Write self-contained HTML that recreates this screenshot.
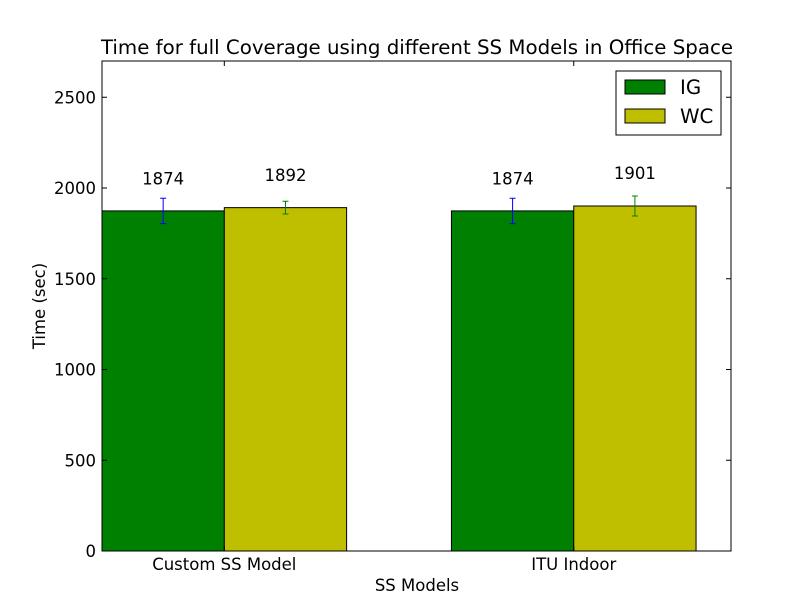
<!DOCTYPE html>
<html><head><meta charset="utf-8"><style>
body{margin:0;background:#fff;font-family:"DejaVu Sans","Liberation Sans",sans-serif;}
</style></head><body>
<svg id="chart" width="812" height="612" xmlns="http://www.w3.org/2000/svg" font-family="DejaVu Sans, Liberation Sans, sans-serif">
<rect width="812" height="612" fill="#fff"/>
<g id="plot"></g>
</svg>
<script>
const categories=["Custom SS Model","ITU Indoor"];
const seriesNames=["IG","WC"];
const igValues=[1874,1874];
const wcValues=[1892,1901];
const igErrors=[70,70];
const wcErrors=[35,55];
const yTicks=[0,500,1000,1500,2000,2500];
const L=102,R=731,T=61,B=551,XMAX=1.8,YMAX=2700,BW=0.35;
const sx=v=>L+(v/XMAX)*(R-L);
const sy=v=>B-(v/YMAX)*(B-T);
const g=document.getElementById('plot');
const NS="http://www.w3.org/2000/svg";
function mk(t,a,txt){const e=document.createElementNS(NS,t);for(const k in a)e.setAttribute(k,a[k]);if(txt!=null)e.textContent=txt;g.appendChild(e);return e;}
const series=[{v:igValues,e:igErrors,fill:"#008000",ec:"#0000ff",off:0},{v:wcValues,e:wcErrors,fill:"#bfbf00",ec:"#008000",off:BW}];
series.forEach((s,si)=>{
 categories.forEach((c,i)=>{
  const x0=sx(i+s.off),x1=sx(i+s.off+BW);
  const r=mk('rect',{x:x0,y:sy(s.v[i]),width:x1-x0,height:B-sy(s.v[i]),fill:s.fill,stroke:"#000","stroke-width":1});
  
  
  const xc=(x0+x1)/2;
  const eb=mk('path',{d:`M${xc},${sy(s.v[i]+s.e[i])}V${sy(s.v[i]-s.e[i])}M${xc-3},${sy(s.v[i]+s.e[i])}H${xc+3}M${xc-3},${sy(s.v[i]-s.e[i])}H${xc+3}`,stroke:s.ec,"stroke-width":1,fill:"none"});
  
  
  const t=mk('text',{x:xc,y:sy(s.v[i]*1.075)-1,"text-anchor":"middle","font-size":16.5},String(s.v[i]));
  
  
 });
});
const frame=mk('rect',{x:L,y:T,width:R-L,height:B-T,fill:"none",stroke:"#000","stroke-width":1});


yTicks.forEach(v=>{
 const y=sy(v);
 mk('path',{d:`M${L},${y}h5M${R},${y}h-5`,stroke:"#000","stroke-width":1});
 const t=mk('text',{x:L-6,y:y+6,"text-anchor":"end","font-size":16.5},String(v));
 
 
});
categories.forEach((c,i)=>{
 const x=sx(i+BW);
 mk('path',{d:`M${x},${B}v-5M${x},${T}v5`,stroke:"#000","stroke-width":1});
 const t=mk('text',{x:x,y:570,"text-anchor":"middle","font-size":16.5},c);
 
 
});
let t=mk('text',{x:417,y:54,"text-anchor":"middle","font-size":19.8},"Time for full Coverage using different SS Models in Office Space");

t=mk('text',{x:417,y:591,"text-anchor":"middle","font-size":16.5},"SS Models");

t=mk('text',{x:45,y:306,"text-anchor":"middle","font-size":16.5,transform:"rotate(-90 45 306)"},"Time (sec)");

const lg=mk('rect',{x:616,y:71,width:105,height:64,fill:"#fff",stroke:"#000","stroke-width":1});

series.forEach((s,si)=>{
 const y=80+si*29;
 const sw=mk('rect',{x:625,y:y,width:40,height:14,fill:s.fill,stroke:"#000","stroke-width":1});
 
 const lt=mk('text',{x:680,y:y+14,"font-size":19.8},seriesNames[si]);
 
});
</script>
</body></html>
